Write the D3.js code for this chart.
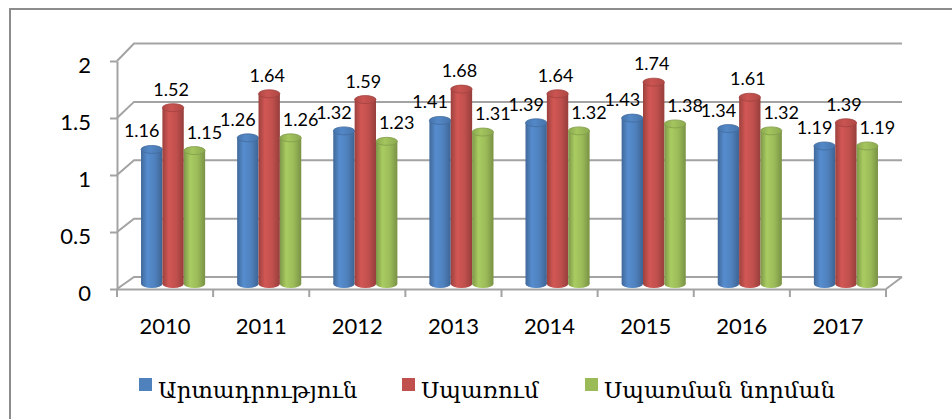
<!DOCTYPE html>
<html><head><meta charset="utf-8">
<script src="https://cdn.jsdelivr.net/npm/d3@7"></script>
<style>body{margin:0;background:#fff} svg{display:block}</style>
</head><body>
<svg id="c" width="952" height="419"></svg>
<script>
const years = ["2010","2011","2012","2013","2014","2015","2016","2017"];
const seriesNames = ["Արտադրություն","Սպառում","Սպառման նորման"];
const production = [1.16,1.26,1.32,1.41,1.39,1.43,1.34,1.19];
const consumption = [1.52,1.64,1.59,1.68,1.64,1.74,1.61,1.39];
const consumptionNorm = [1.15,1.26,1.23,1.31,1.32,1.38,1.32,1.19];
const yTicks = [0,0.5,1,1.5,2];
const yTickLabels = ["0","0.5","1","1.5","2"];
const colors = ["#4F81BD","#C0504D","#9BBB59"];
const seriesValues = [production, consumption, consumptionNorm];

const svg = d3.select("#c");
const grid = "#a3a3a3";

// outer border (only top/left visible)
svg.append("rect").attr("x",10).attr("y",9).attr("width",980).attr("height",440)
  .attr("fill","#fff").attr("stroke","#8c8c8c").attr("stroke-width",2);

const yFront = d3.scaleLinear([0,2],[289,61]);
const yBack = d3.scaleLinear([0,2],[277,43.5]);
const yBar = d3.scaleLinear([0,2],[284,52]);
const xAxisScale = d3.scaleBand(years,[117,886]);
const xGroup = d3.scaleBand(years,[125,894]).paddingInner(0.333).paddingOuter(0.1667);
const xSeries = d3.scaleBand([0,1,2],[0,xGroup.bandwidth()]);
const backLeft = 134, backRight = 902, frontRight = 886;

// back wall gridlines + side wall diagonals
const g = svg.append("g");
yTicks.forEach(v => {
  g.append("path").attr("d", `M117,${yFront(v)}L${backLeft},${yBack(v)}L${backRight},${yBack(v)}`)
    .attr("fill","none").attr("stroke",grid).attr("stroke-width",2);
});
// floor right edge
g.append("path").attr("d",`M${frontRight},${yFront(0)}L${backRight},${yBack(0)}`)
  .attr("fill","none").attr("stroke",grid).attr("stroke-width",2);

// y axis
const yAxis = d3.axisLeft(yFront).tickValues(yTicks).tickFormat((d,i)=>yTickLabels[i])
  .tickSize(7).tickSizeOuter(0).tickPadding(19);
const ya = svg.append("g").attr("transform","translate(117,0)").call(yAxis);
ya.select(".domain").attr("stroke",grid).attr("stroke-width",2);
ya.selectAll(".tick line").attr("stroke",grid).attr("stroke-width",2);
ya.selectAll("text").attr("font-family","Lato, sans-serif").attr("font-size",22).attr("fill","#000").attr("dy","0.5em");

// x axis
const xAxis = d3.axisBottom(xAxisScale).tickSize(0).tickPadding(29);
const xa = svg.append("g").attr("transform",`translate(0,${yFront(0)})`).call(xAxis);
xa.select(".domain").attr("stroke",grid).attr("stroke-width",2);
xa.selectAll("text").attr("font-family","Lato, sans-serif").attr("font-size",22).attr("fill","#000");
const bounds = years.map(y=>xAxisScale(y)).concat([xAxisScale.range()[1]]);
xa.selectAll(".xtick").data(bounds).enter().append("line").attr("class","xtick")
  .attr("x1",d=>d).attr("x2",d=>d).attr("y1",0).attr("y2",8).attr("stroke",grid).attr("stroke-width",2);

// gradients
const defs = svg.append("defs");
colors.forEach((c,i)=>{
  const base = d3.color(c);
  const gr = defs.append("linearGradient").attr("id","g"+i).attr("x1","0").attr("x2","1").attr("y1","0").attr("y2","0");
  gr.append("stop").attr("offset","0%").attr("stop-color",base.darker(0.6));
  gr.append("stop").attr("offset","30%").attr("stop-color",base.brighter(0.25));
  gr.append("stop").attr("offset","65%").attr("stop-color",base);
  gr.append("stop").attr("offset","100%").attr("stop-color",base.darker(0.7));
  const gt = defs.append("linearGradient").attr("id","t"+i).attr("x1","0").attr("x2","1").attr("y1","0").attr("y2","0");
  gt.append("stop").attr("offset","0%").attr("stop-color",base.darker(0.3));
  gt.append("stop").attr("offset","40%").attr("stop-color",base.brighter(0.15));
  gt.append("stop").attr("offset","100%").attr("stop-color",base.darker(0.3));
});

// bars (cylinders)
const ry = 4;
const w = xSeries.bandwidth();
const labelDx = [-10,-2,10];
const bars = svg.append("g");
const labels = svg.append("g");
years.forEach((yr,j)=>{
  seriesValues.forEach((vals,s)=>{
    const v = vals[j];
    const x = xGroup(yr)+xSeries(s);
    const cx = x + w/2;
    const gb = bars.append("g");
    gb.append("ellipse").attr("cx",cx).attr("cy",yBar(0)).attr("rx",w/2).attr("ry",ry).attr("fill",`url(#g${s})`);
    gb.append("rect").attr("x",x).attr("y",yBar(v)).attr("width",w).attr("height",yBar(0)-yBar(v)).attr("fill",`url(#g${s})`);
    gb.append("ellipse").attr("cx",cx).attr("cy",yBar(v)).attr("rx",w/2).attr("ry",ry).attr("fill",`url(#t${s})`)
      .attr("stroke",d3.color(colors[s]).darker(0.5)).attr("stroke-width",0.8);
    labels.append("text").attr("x",cx+labelDx[s]).attr("y",yBar(v)-ry-8).attr("text-anchor","middle")
      .attr("font-family","Lato, sans-serif").attr("font-size",18).attr("fill","#000").text(v.toFixed(2));
  });
});

// legend
const legX = [139,402,585];
const leg = svg.append("g");
seriesNames.forEach((n,i)=>{
  leg.append("rect").attr("x",legX[i]).attr("y",378).attr("width",13).attr("height",13).attr("fill",colors[i]);
  leg.append("text").attr("x",legX[i]+19).attr("y",398).attr("font-family","'DejaVu Serif', 'DejaVu Sans', serif")
    .attr("font-size",23).attr("fill","#000").text(n);
});
</script>
</body></html>
